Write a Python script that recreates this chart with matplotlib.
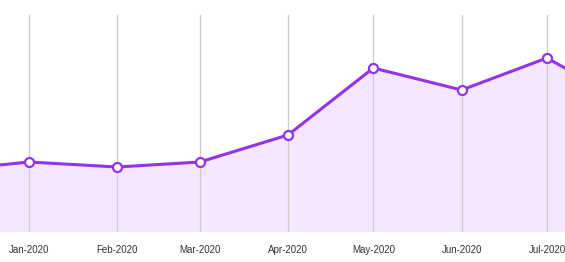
import matplotlib
matplotlib.use("Agg")
import matplotlib.pyplot as plt
import datetime as dt

months = ["2019-12-01", "2020-01-01", "2020-02-01", "2020-03-01", "2020-04-01",
          "2020-05-01", "2020-06-01", "2020-07-01", "2020-08-01"]
values = [61, 70, 65, 70, 97, 164, 142, 174, 125]
tick_labels = ["Jan-2020", "Feb-2020", "Mar-2020", "Apr-2020", "May-2020", "Jun-2020", "Jul-2020"]

dates = [dt.datetime.strptime(m, "%Y-%m-%d") for m in months]

plt.rcParams['font.family'] = ['Liberation Sans', 'DejaVu Sans']
fig = plt.figure(figsize=(5.65, 2.62), dpi=100)
ax = fig.add_axes([0, 30/262, 1, (232-15)/262])

line_c = "#9333ea"
ax.fill_between(dates, values, 0, color="#f3e8ff", zorder=1, linewidth=0)
ax.plot(dates, values, color=line_c, lw=2.2, zorder=3, marker="o", ms=6.5,
        mfc="white", mec=line_c, mew=1.6)

x0 = dt.datetime(2020, 1, 1) - dt.timedelta(days=10.19)
x1 = dt.datetime(2020, 1, 1) + dt.timedelta(days=188.35)
ax.set_xlim(x0, x1)
ax.set_ylim(0, 217)

ticks = dates[1:8]
ax.set_xticks(ticks)
ax.set_xticklabels(tick_labels, fontsize=7, color="#333333")
ax.tick_params(axis="x", length=0, pad=9.5)
ax.set_yticks([])
ax.grid(axis="x", color="#cccccc", lw=0.9, zorder=2)
ax.set_axisbelow(False)
for s in ax.spines.values():
    s.set_visible(False)

fig.savefig("out.png", dpi=100)
